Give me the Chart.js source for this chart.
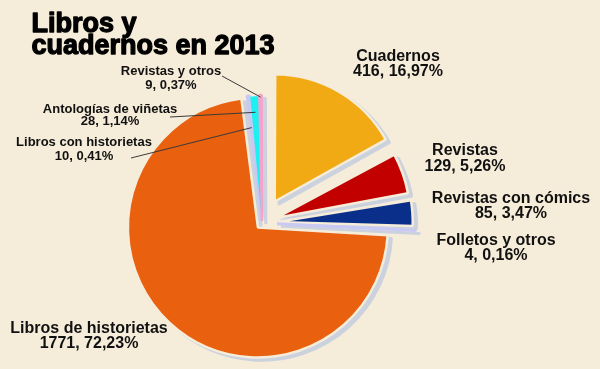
<!DOCTYPE html>
<html><head><meta charset="utf-8">
<script src="https://cdn.jsdelivr.net/npm/chart.js@4.4.0/dist/chart.umd.min.js"></script>
<style>
html,body{margin:0;padding:0;background:#F5ECD9;}
#wrap{position:relative;width:600px;height:369px;overflow:hidden;}
canvas{display:block;}
</style></head><body>
<div id="wrap"><canvas id="c" width="600" height="369"></canvas></div>
<script>
// ---- data ----
const categories = ['Cuadernos','Revistas','Revistas con cómics','Folletos y otros','Libros de historietas','Libros con historietas','Antologías de viñetas','Revistas y otros'];
const values = [416, 129, 85, 4, 1771, 10, 28, 9];
const titleLines = ['Libros y', 'cuadernos en 2013'];

// ---- style ----
const colors = ['#F2AA14','#C20000','#0A2F8B','#C9C9F6','#E9600F','#C8C8F2','#1CF0F0','#F5A3CC'];
const bg = '#F5ECD9';
const borderColors = [bg, bg, bg, '#C9C9F6', bg, '#C8C8F2', '#1CF0F0', '#F5A3CC'];
const borderWidths = [2.5, 2.5, 2.5, 3, 2.5, 2.5, 0, 2.5];
const offsets = [100, 60, 60, 60, 24, 8, 6, 8];
const shadowColor = '#CBD2DD';
const shadowDX = 4, shadowDY = 3;
const FONT = '"Liberation Sans", Arial, Helvetica, sans-serif';
const labelLayout = [
  {x:398, y:60.5, size:16, lh:15.5},
  {x:465, y:155, size:16, lh:15.5},
  {x:511, y:202.5, size:16, lh:15},
  {x:496, y:245, size:16, lh:15},
  {x:89, y:332.5, size:16, lh:15.5},
  {x:84, y:146, size:13, lh:13.5, lead:{x:131, y:158, inset:32}},
  {x:110, y:112.5, size:13, lh:12.5, lead:{x:170, y:117, inset:16}},
  {x:171, y:75, size:13, lh:13.5, lead:{x:222, y:76, inset:2}}
];

const shadowPlugin = {
  id: 'pieShadow',
  beforeDatasetsDraw(chart) {
    const ctx = chart.ctx;
    const meta = chart.getDatasetMeta(0);
    ctx.save();
    ctx.translate(shadowDX, shadowDY);
    meta.data.forEach(el => {
      const o = el.options;
      el.options = Object.assign({}, o, {backgroundColor: shadowColor, borderColor: shadowColor});
      el.draw(ctx);
      el.options = o;
    });
    ctx.restore();
  }
};

const labelPlugin = {
  id: 'pieLabels',
  afterDatasetsDraw(chart) {
    const ctx = chart.ctx;
    const meta = chart.getDatasetMeta(0);
    const total = values.reduce((a, b) => a + b, 0);
    ctx.save();
    ctx.fillStyle = '#000';
    ctx.strokeStyle = '#000';
    ctx.textBaseline = 'alphabetic';
    ctx.textAlign = 'left';
    ctx.font = 'bold 27px ' + FONT;
    ctx.lineWidth = 1.3;
    ctx.lineJoin = 'round';
    titleLines.forEach((t, i) => { ctx.fillText(t, 31.5, 32 + i * 22); ctx.strokeText(t, 31.5, 32 + i * 22); });
    categories.forEach((cat, i) => {
      const p = labelLayout[i];
      const pct = (values[i] / total * 100).toFixed(2).replace('.', ',') + '%';
      ctx.font = 'bold ' + p.size + 'px ' + FONT;
      ctx.textAlign = 'center';
      ctx.fillStyle = '#111';
      ctx.fillText(cat, p.x, p.y);
      ctx.fillText(values[i] + ', ' + pct, p.x, p.y + p.lh);
      if (p.lead) {
        const el = meta.data[i];
        const mid = (el.startAngle + el.endAngle) / 2;
        const t = (el.options.offset || 0) / 4;
        const fix = 1 - Math.sin(Math.min(Math.PI, el.circumference));
        const cx = el.x + Math.cos(mid) * t, cy = el.y + Math.sin(mid) * t;
        const r = el.outerRadius + t * fix - p.lead.inset;
        ctx.beginPath();
        ctx.moveTo(p.lead.x, p.lead.y);
        ctx.lineTo(cx + Math.cos(mid) * r, cy + Math.sin(mid) * r);
        ctx.strokeStyle = '#3a3a3a';
        ctx.lineWidth = 1;
        ctx.stroke();
      }
    });
    ctx.restore();
  }
};

new Chart(document.getElementById('c'), {
  type: 'pie',
  data: {
    labels: categories,
    datasets: [{
      data: values,
      backgroundColor: colors,
      borderColor: borderColors,
      borderWidth: borderWidths,
      offset: offsets,
      radius: 124
    }]
  },
  options: {
    responsive: false,
    animation: false,
    events: [],
    layout: {padding: {left: 0, right: 76, top: 77, bottom: 0}},
    plugins: {legend: {display: false}, tooltip: {enabled: false}, title: {display: false}}
  },
  plugins: [shadowPlugin, labelPlugin]
});
</script>
</body></html>
